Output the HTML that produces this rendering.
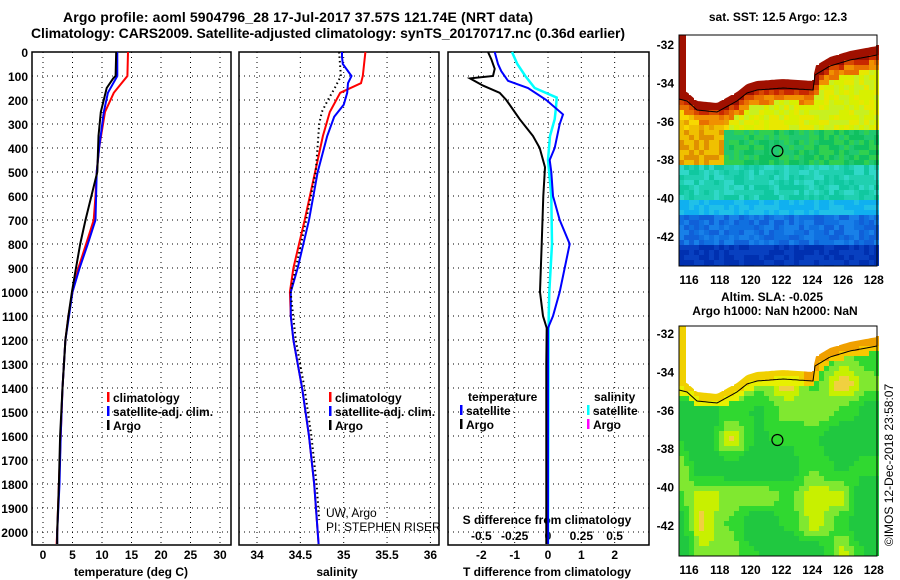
<!DOCTYPE html>
<html><head><meta charset="utf-8"><style>
html,body{margin:0;padding:0;background:#fff}
svg{display:block;font-family:"Liberation Sans",sans-serif;font-weight:bold}
</style></head><body>
<svg id="s" width="900" height="580" viewBox="0 0 900 580" xmlns="http://www.w3.org/2000/svg">
<text x="298" y="22" font-size="14" text-anchor="middle" textLength="470">Argo profile: aoml 5904796_28 17-Jul-2017 37.57S 121.74E (NRT data)</text>
<text x="328" y="38" font-size="14" text-anchor="middle" textLength="594">Climatology: CARS2009. Satellite-adjusted climatology: synTS_20170717.nc (0.36d earlier)</text>
<g id="maps"></g>
<g id="p1"></g>
<g id="p2"></g>
<g id="p3"></g>
</svg>
<script>
// ---- data ----
const depthTicks=[0,100,200,300,400,500,600,700,800,900,1000,1100,1200,1300,1400,1500,1600,1700,1800,1900,2000];
const tempTicks=[0,5,10,15,20,25,30];
const salTicks=[34,34.5,35,35.5,36];
const salTickLabels=["34","34.5","35","35.5","36"];
const dTTicks=[-2,-1,0,1,2];
const dSTickLabels=["-0.5","-0.25","0","0.25","0.5"];
const dSTicks=[-0.5,-0.25,0,0.25,0.5];

const tArgoDepth=[0,100,110,150,250,350,500,600,700,800,900,1000,1100,1200,1400,1600,1800,2000,2050];
const tArgo=[12.4,12.3,11.9,10.8,9.8,9.4,9.2,8.2,7.2,6.3,5.6,4.9,4.3,3.8,3.3,2.9,2.7,2.4,2.4];
const tSatDepth=[0,100,170,250,400,500,600,700,800,900,1000,1100,1200,1400,1600,1800,2000,2050];
const tSat=[12.6,12.6,11.0,10.3,9.5,9.1,9.0,8.9,7.6,6.2,5.0,4.4,3.8,3.3,3.0,2.8,2.4,2.4];
const tClimDepth=[0,100,170,250,400,500,600,700,800,900,1000,1100,1200,1400,1600,1800,2000,2050];
const tClim=[14.4,14.3,12.0,10.5,9.5,9.1,8.9,8.6,7.3,6.0,5.0,4.3,3.8,3.3,3.0,2.7,2.4,2.3];

const sClimDepth=[0,100,130,170,250,350,500,700,900,1000,1100,1200,1400,1600,1800,2000,2050];
const sClim=[35.25,35.22,35.2,34.96,34.84,34.76,34.67,34.55,34.42,34.38,34.39,34.42,34.52,34.6,34.66,34.7,34.71];
const sSatDepth=[0,20,50,100,130,170,220,270,350,500,700,900,1000,1100,1200,1400,1600,1800,2000,2050];
const sSat=[34.98,34.98,34.99,35.09,35.05,35.04,35.0,34.89,34.81,34.7,34.6,34.47,34.39,34.39,34.42,34.52,34.6,34.66,34.7,34.71];
const sArgoDepth=[0,100,150,200,250,300,400,500,700,900,1000,1200,1400,1600,1800,1950];
const sArgo=[34.93,34.95,34.88,34.8,34.73,34.7,34.68,34.66,34.55,34.43,34.37,34.43,34.53,34.61,34.67,34.7];

const dTArgoDepth=[0,30,70,100,110,140,170,200,250,280,350,400,480,600,800,1000,1100,1150,1300,1600,2050];
const dTArgo=[-1.8,-1.7,-1.6,-1.65,-2.34,-1.95,-1.45,-1.25,-1.0,-0.85,-0.45,-0.25,-0.09,-0.14,-0.19,-0.24,-0.15,-0.04,-0.05,-0.05,-0.05];
const dTSatDepth=[0,50,80,120,150,200,260,300,400,450,500,600,700,800,900,1000,1100,1150,1300,2050];
const dTSat=[-1.6,-1.5,-1.4,-1.2,-0.6,-0.05,0.45,0.35,0.2,0.05,0.1,0.15,0.35,0.65,0.5,0.35,0.15,0.0,0.0,0.0];
const dSSatDepth=[0,50,100,150,190,230,280,350,450,600,800,1000,1100,2050];
const dSSat=[-0.27,-0.23,-0.17,-0.1,0.065,0.06,0.05,0.015,0,0.025,0.03,0.01,0.005,0.0];

// ---- helpers ----
const NS="http://www.w3.org/2000/svg";
function mk(tag,attrs,parent){const e=document.createElementNS(NS,tag);for(const k in attrs)e.setAttribute(k,attrs[k]);parent.appendChild(e);return e;}
function txt(parent,x,y,s,size,anchor,fill){const t=mk('text',{x:x,y:y,'font-size':size,'text-anchor':anchor||'start',fill:fill||'#000'},parent);t.textContent=s;return t;}
const TOP=52,BOT=545;
const yD=d=>TOP+d*0.24;
const xT=t=>43+5.9*t;
const xS=s=>257+86.7*(s-34);
const xDT=t=>548+33.33*t;
const xDS=s=>548+133.3*s;

function frame(g,x0,x1,vx){
  mk('rect',{x:x0,y:TOP,width:x1-x0,height:BOT-TOP,fill:'#fff',stroke:'#000','stroke-width':1.5},g);
  depthTicks.forEach(d=>{if(d===0)return;const l=mk('line',{x1:x0,x2:x1,y1:yD(d),y2:yD(d),stroke:'#000','stroke-width':1,'stroke-dasharray':'1,4'},g);
    
    });
  vx.forEach(x=>{const l=mk('line',{x1:x,x2:x,y1:TOP,y2:BOT,stroke:'#000','stroke-width':1,'stroke-dasharray':'1,4'},g);
    
    });
}
function line(g,ds,vs,fx,color,w,name){
  const pts=ds.map((d,i)=>fx(vs[i]).toFixed(1)+','+yD(d).toFixed(1)).join(' ');
  const p=mk('polyline',{points:pts,fill:'none',stroke:color,'stroke-width':w,'stroke-linejoin':'miter'},g);
  
  
  return p;
}
function legend(g,x,y,items){
  items.forEach((it,i)=>{const yy=y+i*14;
    const m=mk('rect',{x:x,y:yy-10,width:2.5,height:10,fill:it[1]},g);
    
    
    const t=txt(g,x+6,yy,it[0],12);
    
    });
}

// ---- panel 1 ----
const p1=document.getElementById('p1');
frame(p1,32,231,tempTicks.map(xT));
depthTicks.forEach(d=>{const t=txt(p1,28,yD(d)+5,String(d),12,'end');
  
  });
tempTicks.forEach(v=>{const t=txt(p1,xT(v),559,String(v),12,'middle');
  
  });
{const t=txt(p1,131,576,'temperature (deg C)',12,'middle');}
line(p1,tClimDepth,tClim,xT,'#ff0000',2,'temperature-climatology-line');
line(p1,tSatDepth,tSat,xT,'#0000ff',2,'temperature-satellite-line');
line(p1,tArgoDepth,tArgo,xT,'#000',2,'temperature-argo-line');
legend(p1,107,402,[['climatology','#ff0000'],['satellite-adj. clim.','#0000ff'],['Argo','#000']]);

// ---- panel 2 ----
const p2=document.getElementById('p2');
frame(p2,239,439,salTicks.map(xS));
salTicks.forEach((v,i)=>{const t=txt(p2,xS(v),559,salTickLabels[i],12,'middle');
  
  });
{const t=txt(p2,337,576,'salinity',12,'middle');}
line(p2,sClimDepth,sClim,xS,'#ff0000',2,'salinity-climatology-line');
line(p2,sSatDepth,sSat,xS,'#0000ff',2,'salinity-satellite-line');
{const p=line(p2,sArgoDepth,sArgo,v=>xS(v)+1.5,'#000',2,'salinity-argo-dotted');p.setAttribute('stroke-dasharray','1.5,3');}
legend(p2,329,402,[['climatology','#ff0000'],['satellite-adj. clim.','#0000ff'],['Argo','#000']]);
{const t=txt(p2,326,517,'UW, Argo',12);t.setAttribute('font-weight','normal');}
{const t=txt(p2,326,531,'PI: STEPHEN RISER',12);t.setAttribute('font-weight','normal');}

// ---- panel 3 ----
const p3=document.getElementById('p3');
frame(p3,448,649,dTTicks.map(xDT));
dTTicks.forEach(v=>{const t=txt(p3,xDT(v),559,String(v),12,'middle');
  
  });
dSTicks.forEach((v,i)=>{const t=txt(p3,xDS(v),540,dSTickLabels[i],12,'middle');
  
  });
{const t=txt(p3,547,524,'S difference from climatology',12,'middle');}
{const t=txt(p3,547,576,'T difference from climatology',12,'middle');}
line(p3,dSSatDepth,dSSat,xDS,'#00ffff',2.5,'salinity-difference-satellite-line');
line(p3,dTSatDepth,dTSat,xDT,'#0000ff',2,'temperature-difference-satellite-line');
line(p3,dTArgoDepth,dTArgo,xDT,'#000',2,'temperature-difference-argo-line');
{const t=txt(p3,468,401,'temperature',12);}
{const t=txt(p3,594,401,'salinity',12);}
legend(p3,460,415,[['satellite','#0000ff'],['Argo','#000']]);
legend(p3,587,415,[['satellite','#00ffff'],['Argo','#ff00ff']]);

// ---- maps ----
const maps=document.getElementById('maps');
const MX0=679,MX1=877;
const lonTicks=[116,118,120,122,124,126,128];
const latTicks=[-32,-34,-36,-38,-40,-42];
const xLon=l=>MX0+(l-115.35)*15.4;
const coastX=[679,687,697,717,737,747,757,783,813,815,830,850,877];
const coastDY=[55,57,66,68,57,49,46,44,46,31,22,16,11];
function coast(x){for(let i=1;i<coastX.length;i++){if(x<=coastX[i]){const f=(x-coastX[i-1])/(coastX[i]-coastX[i-1]);return coastDY[i-1]+f*(coastDY[i]-coastDY[i-1]);}}return coastDY[coastDY.length-1];}
function hash(a,b,c){let h=(a*374761393+b*668265263+c*982451653)|0;h=(h^(h>>>13))*1274126177|0;return ((h^(h>>>16))>>>0)/4294967295;}
function smooth(x,y,s,seed){const gx=Math.floor(x/s),gy=Math.floor(y/s),fx=x/s-gx,fy=y/s-gy;
  const a=hash(gx,gy,seed),b=hash(gx+1,gy,seed),c=hash(gx,gy+1,seed),d=hash(gx+1,gy+1,seed);
  const ux=fx*fx*(3-2*fx),uy=fy*fy*(3-2*fy);
  return a*(1-ux)*(1-uy)+b*ux*(1-uy)+c*(1-ux)*uy+d*ux*uy;}
function sstColor(x,dy,r){
  const c=coast(x), d=dy-c;
  if(d<7) return '#a01000';
  if(d<12) return r<0.5?'#c82800':'#d84800';
  if(d<20) return r<0.5?'#e87000':'#f09000';
  const y=dy;
  if(y<92){ if(x<725) return r<0.4?'#e8a000':(r<0.7?'#f0c000':'#f8d800'); return r<0.4?'#d8f000':(r<0.7?'#e8e800':'#c8f020');}
  if(y<128){ if(x<720) return r<0.4?'#e09000':'#f0c000'; return r<0.3?'#10c060':(r<0.6?'#20c870':'#30d050');}
  if(y<162) return r<0.4?'#20d0b0':(r<0.7?'#30d8c8':'#10c8a0');
  if(y<176) return r<0.5?'#10b0f0':'#20c0e8';
  if(y<208) return r<0.4?'#1070e0':(r<0.7?'#1060d8':'#1880e8');
  return r<0.5?'#0030b0':'#0840c0';
}
function slaColor(x,dy,r){
  const c=coast(x), d=dy-c;
  if(d<5) return x>800?'#f0a000':'#f0d000';
  if(d<12) return x>800?'#f8c800':'#e8f000';
  const v=smooth(x,dy,28,7);
  return v<0.45?'#20c840':(v<0.65?'#30d830':(v<0.8?'#80e830':(v<0.9?'#c8f000':'#f0d040')));
}
function drawMap(top,bot,lat32,colorFn,name,circleY){
  const g=mk('g',{},maps);
  
  
  const cs=5;
  for(let y=top;y<bot;y+=cs){for(let x=MX0;x<MX1;x+=cs){
    const dy=y-top;const c=coast(x+2);
    if(dy+cs<=c && x>=686) continue;
    const r=hash(x,y,name.length);
    mk('rect',{x:x,y:y,width:cs,height:Math.min(cs,bot-y),fill:colorFn(x,dy,r)},g);
  }}
  let d='M686,'+top+' ';
  for(let x=686;x<=MX1;x+=2) d+='L'+x+','+(top+coast(x)).toFixed(1)+' ';
  d+='L'+MX1+','+top+' Z';
  mk('path',{d:d,fill:'#fff'},g);
  let c2='';for(let x=MX0;x<=MX1;x+=2) c2+=(x===MX0?'M':'L')+x+','+(top+coast(x)+9).toFixed(1)+' ';
  mk('path',{d:c2,fill:'none',stroke:'#000','stroke-width':1},g);
  mk('rect',{x:MX0,y:top,width:MX1-MX0,height:bot-top,fill:'none',stroke:'#000','stroke-width':1},g);
  const circ=mk('circle',{cx:xLon(121.74),cy:circleY,r:5.5,fill:'none',stroke:'#000','stroke-width':1.2},g);
  
  
  latTicks.forEach(l=>{const yy=lat32+(-32-l)*19.2;
    const t=txt(g,674,yy+5,String(l),12,'end');
    
    });
  lonTicks.forEach(l=>{const t=txt(g,xLon(l),bot+18,String(l),12,'middle');
    
    });
}
drawMap(35,266,44,sstColor,'sst-map',151);
drawMap(326,556,333,slaColor,'sla-map',440);
{const t=txt(maps,778,21,'sat. SST: 12.5 Argo: 12.3',12,'middle');}
{const t=txt(maps,772,301,'Altim. SLA: -0.025',12,'middle');}
{const t=txt(maps,775,315,'Argo h1000: NaN h2000: NaN',12,'middle');}
{const t=txt(maps,0,0,'©IMOS 12-Dec-2018 23:58:07',12,'middle');t.setAttribute('font-weight','normal');t.setAttribute('transform','translate(893,465) rotate(-90)');}
</script>
</body></html>
